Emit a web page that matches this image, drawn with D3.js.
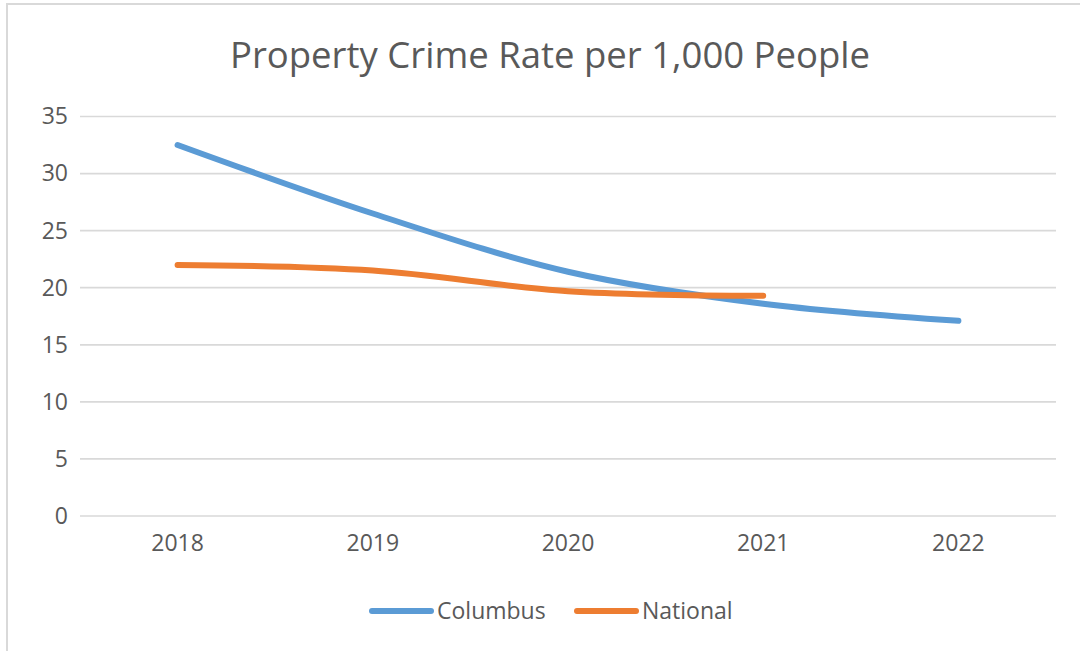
<!DOCTYPE html>
<html>
<head>
<meta charset="utf-8">
<script src="https://cdn.jsdelivr.net/npm/d3@7"></script>
<style>
  html, body { margin: 0; padding: 0; background: #fff; }
  svg { display: block; }
  text { font-family: "Open Sans", "Noto Sans", sans-serif; fill: #595959; }
</style>
</head>
<body>
<svg id="chart" width="1080" height="651"></svg>
<script>
const years = ["2018", "2019", "2020", "2021", "2022"];
const columbus = [32.5, 26.5, 21.4, 18.6, 17.1];
const national = [22.0, 21.5, 19.7, 19.3, null];
const yTicks = [0, 5, 10, 15, 20, 25, 30, 35];
const seriesNames = ["Columbus", "National"];
const seriesColors = ["#5B9BD5", "#ED7D31"];
const title = "Property Crime Rate per 1,000 People";

const svg = d3.select("#chart");

// outer chart border
svg.append("rect")
  .attr("x", 7).attr("y", 4)
  .attr("width", 1090).attr("height", 700)
  .attr("fill", "#fff").attr("stroke", "#D9D9D9").attr("stroke-width", 2);

const x = d3.scaleBand().domain(years).range([80, 1056]);
const y = d3.scaleLinear().domain([0, 35]).range([516, 116.5]);

// gridlines
svg.append("g").selectAll("line").data(yTicks).join("line")
  .attr("x1", 80).attr("x2", 1056)
  .attr("y1", d => y(d)).attr("y2", d => y(d))
  .attr("stroke", "#D9D9D9").attr("stroke-width", 1.7);

// y axis labels
const yAxis = d3.axisLeft(y).tickValues(yTicks).tickSize(0).tickPadding(0);
const gy = svg.append("g").attr("transform", "translate(68,0)").call(yAxis);
gy.select(".domain").remove();
gy.selectAll("text").attr("font-size", 23).attr("fill", "#595959")
  .attr("font-family", "'Open Sans', sans-serif");

// x axis labels
const xAxis = d3.axisBottom(x).tickSize(0).tickPadding(0);
const gx = svg.append("g").attr("transform", "translate(0,535)").call(xAxis);
gx.select(".domain").remove();
gx.selectAll("text").attr("font-size", 23).attr("fill", "#595959")
  .attr("font-family", "'Open Sans', sans-serif");

// title
svg.append("text")
  .attr("x", 550).attr("y", 68)
  .attr("text-anchor", "middle")
  .attr("font-size", 36.5)
  .text(title);

// lines
const line = d3.line()
  .defined(d => d.v != null)
  .x(d => x(d.year) + x.bandwidth() / 2)
  .y(d => y(d.v))
  .curve(d3.curveCatmullRom.alpha(0.5));

const series = [columbus, national].map((vals, i) => ({
  name: seriesNames[i], color: seriesColors[i],
  pts: years.map((yr, j) => ({ year: yr, v: vals[j] })).filter(d => d.v != null)
}));

svg.append("g").selectAll("path").data(series).join("path")
  .attr("d", d => line(d.pts))
  .attr("fill", "none")
  .attr("stroke", d => d.color)
  .attr("stroke-width", 6)
  .attr("stroke-linecap", "round")
  .attr("stroke-linejoin", "round");

// legend
const legendX = [370, 575];
const lg = svg.append("g").selectAll("g").data(series).join("g")
  .attr("transform", (d, i) => `translate(${legendX[i]},611)`);
lg.append("line").attr("x1", 2).attr("x2", 61).attr("y1", 0).attr("y2", 0)
  .attr("stroke", d => d.color).attr("stroke-width", 6).attr("stroke-linecap", "round");
lg.append("text").attr("x", 67).attr("y", 0).attr("dy", "0.35em")
  .attr("font-size", 23).text(d => d.name);
</script>
</body>
</html>
